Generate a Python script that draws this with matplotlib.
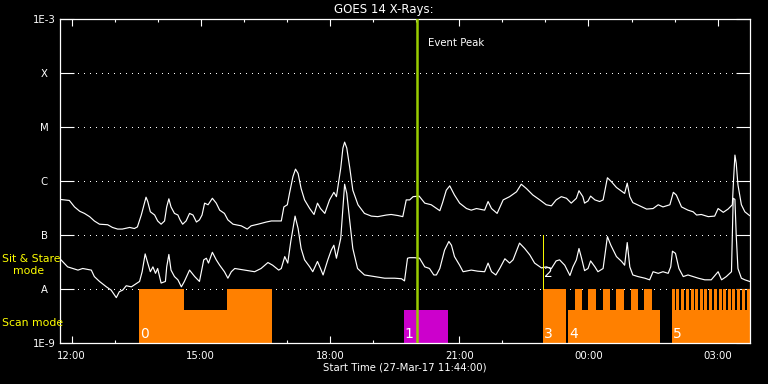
import numpy as np
import matplotlib
matplotlib.use("Agg")
import matplotlib.pyplot as plt
from matplotlib.transforms import blended_transform_factory

# ---------------- data (time: hours from 27-Mar-17 00:00, flux: log10 W/m^2)
t_hi = [11.72, 11.95, 12.07, 12.19, 12.30, 12.42, 12.53, 12.65, 12.84, 12.95, 13.07, 13.18, 13.35, 13.46,
        13.53, 13.62, 13.67, 13.73, 13.77, 13.83, 13.93, 14.00, 14.08, 14.16, 14.21, 14.26, 14.31, 14.39,
        14.47, 14.52, 14.58, 14.66, 14.74, 14.82, 14.90, 14.97, 15.03, 15.09, 15.17, 15.27, 15.36, 15.44,
        15.55, 15.63, 15.75, 15.94, 16.08, 16.17, 16.33, 16.52, 16.64, 16.87, 16.93, 17.01, 17.06, 17.14,
        17.20, 17.26, 17.33, 17.41, 17.53, 17.63, 17.71, 17.78, 17.88, 17.99, 18.09, 18.15, 18.25, 18.30,
        18.34, 18.39, 18.46, 18.53, 18.65, 18.80, 18.96, 19.11, 19.31, 19.42, 19.58, 19.69, 19.77, 19.85,
        19.93, 20.07, 20.20, 20.35, 20.55, 20.61, 20.70, 20.78, 20.89, 21.01, 21.17, 21.28, 21.40, 21.59,
        21.67, 21.75, 21.88, 22.02, 22.17, 22.33, 22.44, 22.56, 22.71, 22.87, 23.02, 23.14, 23.25, 23.37,
        23.49, 23.60, 23.72, 23.78, 23.87, 23.91, 23.99, 24.05, 24.15, 24.26, 24.34, 24.44, 24.53, 24.65,
        24.77, 24.84, 24.90, 24.96, 25.03, 25.19, 25.35, 25.50, 25.62, 25.73, 25.89, 25.97, 26.04, 26.16,
        26.31, 26.43, 26.51, 26.62, 26.78, 26.93, 27.01, 27.13, 27.24, 27.34, 27.37, 27.40, 27.43, 27.47,
        27.55, 27.63, 27.74]
logf_hi = [-6.34, -6.36, -6.48, -6.56, -6.60, -6.66, -6.74, -6.80, -6.81, -6.86, -6.89, -6.89, -6.86, -6.88,
           -6.85, -6.63, -6.48, -6.30, -6.38, -6.57, -6.63, -6.74, -6.80, -6.74, -6.48, -6.33, -6.48, -6.60,
           -6.63, -6.72, -6.80, -6.74, -6.60, -6.63, -6.76, -6.72, -6.63, -6.41, -6.44, -6.32, -6.41, -6.54,
           -6.60, -6.72, -6.80, -6.83, -6.89, -6.83, -6.80, -6.76, -6.74, -6.74, -6.48, -6.44, -6.23, -5.92,
           -5.78, -5.86, -6.14, -6.35, -6.51, -6.62, -6.41, -6.51, -6.60, -6.35, -6.21, -6.29, -5.76, -5.39,
           -5.28, -5.39, -5.76, -6.17, -6.44, -6.60, -6.65, -6.66, -6.63, -6.62, -6.64, -6.66, -6.35, -6.35,
           -6.29, -6.28, -6.41, -6.44, -6.55, -6.41, -6.17, -6.09, -6.26, -6.41, -6.51, -6.54, -6.51, -6.54,
           -6.38, -6.51, -6.60, -6.35, -6.29, -6.20, -6.06, -6.14, -6.26, -6.35, -6.44, -6.46, -6.35, -6.29,
           -6.32, -6.41, -6.32, -6.18, -6.29, -6.41, -6.37, -6.28, -6.35, -6.38, -6.35, -5.94, -6.01, -6.12,
           -6.19, -6.23, -6.04, -6.29, -6.40, -6.46, -6.52, -6.51, -6.44, -6.48, -6.44, -6.21, -6.26, -6.48,
           -6.54, -6.57, -6.63, -6.62, -6.66, -6.65, -6.51, -6.58, -6.52, -6.44, -5.95, -5.52, -5.67, -6.07,
           -6.44, -6.57, -6.64]

t_lo = [11.72, 11.91, 12.03, 12.15, 12.26, 12.46, 12.53, 12.65, 12.81, 12.92, 13.04, 13.11, 13.19, 13.27,
        13.39, 13.52, 13.58, 13.64, 13.71, 13.77, 13.83, 13.89, 13.95, 14.00, 14.08, 14.18, 14.21, 14.26,
        14.31, 14.39, 14.47, 14.55, 14.62, 14.74, 14.86, 14.97, 15.07, 15.13, 15.18, 15.27, 15.36, 15.44,
        15.55, 15.63, 15.71, 15.79, 16.02, 16.25, 16.40, 16.56, 16.67, 16.81, 16.87, 16.95, 17.02, 17.09,
        17.19, 17.26, 17.33, 17.41, 17.53, 17.60, 17.71, 17.78, 17.84, 17.95, 18.03, 18.09, 18.15, 18.25,
        18.34, 18.39, 18.46, 18.53, 18.64, 18.80, 19.04, 19.27, 19.50, 19.66, 19.73, 19.80, 19.85, 19.96,
        20.08, 20.20, 20.31, 20.41, 20.47, 20.55, 20.66, 20.76, 20.82, 20.89, 21.01, 21.09, 21.28, 21.43,
        21.59, 21.67, 21.75, 21.85, 21.94, 22.06, 22.17, 22.25, 22.40, 22.52, 22.64, 22.75, 22.91, 23.02,
        23.14, 23.25, 23.33, 23.45, 23.57, 23.64, 23.72, 23.78, 23.84, 23.91, 23.99, 24.05, 24.15, 24.22,
        24.34, 24.44, 24.52, 24.65, 24.77, 24.84, 24.90, 24.96, 25.03, 25.15, 25.31, 25.42, 25.50, 25.62,
        25.73, 25.85, 25.91, 25.95, 26.02, 26.10, 26.20, 26.31, 26.43, 26.55, 26.70, 26.85, 27.01, 27.09,
        27.20, 27.32, 27.36, 27.40, 27.43, 27.47, 27.55, 27.63, 27.74]
logf_lo = [-7.43, -7.59, -7.62, -7.65, -7.62, -7.65, -7.77, -7.86, -7.96, -8.02, -8.16, -8.05, -8.02, -7.94,
           -7.96, -7.89, -7.86, -7.68, -7.35, -7.52, -7.68, -7.59, -7.71, -7.62, -7.89, -7.86, -7.59, -7.36,
           -7.65, -7.77, -7.83, -7.96, -7.86, -7.65, -7.77, -7.86, -7.46, -7.43, -7.52, -7.32, -7.46, -7.56,
           -7.68, -7.80, -7.68, -7.62, -7.65, -7.68, -7.62, -7.51, -7.56, -7.65, -7.62, -7.40, -7.52, -7.12,
           -6.65, -6.88, -7.25, -7.46, -7.59, -7.68, -7.49, -7.62, -7.74, -7.46, -7.28, -7.19, -7.43, -7.06,
           -6.06, -6.23, -6.75, -7.25, -7.62, -7.74, -7.77, -7.80, -7.80, -7.81, -7.85, -7.43, -7.42, -7.42,
           -7.43, -7.59, -7.62, -7.74, -7.74, -7.62, -7.28, -7.12, -7.19, -7.40, -7.56, -7.68, -7.65, -7.67,
           -7.68, -7.52, -7.68, -7.74, -7.62, -7.44, -7.52, -7.46, -7.15, -7.25, -7.37, -7.52, -7.61, -7.59,
           -7.62, -7.48, -7.46, -7.56, -7.75, -7.59, -7.46, -7.25, -7.43, -7.66, -7.62, -7.48, -7.59, -7.68,
           -7.62, -7.03, -7.19, -7.40, -7.49, -7.56, -7.14, -7.59, -7.74, -7.77, -7.80, -7.83, -7.68, -7.71,
           -7.68, -7.71, -7.59, -7.30, -7.34, -7.62, -7.77, -7.74, -7.77, -7.80, -7.83, -7.83, -7.68, -7.83,
           -7.77, -7.68, -6.32, -6.34, -7.00, -7.62, -7.80, -7.83, -7.86]

level_values = [1e-9, 1e-8, 1e-7, 1e-6, 1e-5, 1e-4, 1e-3]
level_labels = ["1E-9", "A", "B", "C", "M", "X", "1E-3"]
hour_ticks = [12, 15, 18, 21, 24, 27]
hour_labels = ["12:00", "15:00", "18:00", "21:00", "00:00", "03:00"]

# scan mode (lower lane) intervals and colours
scan_start = [13.56, 19.71, 23.52, 25.93]
scan_end = [16.66, 20.75, 25.65, 27.76]
scan_color = ["#ff8000", "#cc00cc", "#ff8000", "#ff8000"]
# sit & stare mode (full lane) intervals
stare_start = [13.56, 15.62, 22.94, 23.68, 24.00, 24.33, 24.65, 24.98, 25.30,
               25.93, 26.04, 26.15, 26.26, 26.37, 26.47, 26.58, 26.69, 26.80,
               26.91, 27.02, 27.13, 27.24, 27.34, 27.45, 27.56, 27.67]
stare_end = [14.60, 16.66, 23.49, 23.86, 24.18, 24.51, 24.83, 25.16, 25.48,
             26.01, 26.11, 26.22, 26.33, 26.44, 26.54, 26.65, 26.76, 26.87,
             26.98, 27.09, 27.20, 27.31, 27.41, 27.52, 27.63, 27.76]
lane_bottom = 1e-9
scan_top = 4.1e-9
stare_top = 1e-8

block_label_times = [13.56, 19.71, 22.94, 23.52, 25.93]
block_label_texts = ["0", "1", "3", "4", "5"]
event_peak = 20.03
marker2_time = 22.94

# ---------------- figure
W, H = 768, 384
fig = plt.figure(figsize=(W / 100, H / 100), dpi=100, facecolor="black")
ax = fig.add_axes([60 / W, 1 - 343 / H, 690 / W, 324 / H], facecolor="black")
ax.set_yscale("log")
ax.set_ylim(1e-9, 1e-3)
ax.set_xlim(11.733, 27.75)

fs = 7.3
# grid dotted lines
for lv in level_values[1:-1]:
    ax.axhline(lv, color="white", lw=1.0, linestyle=(0, (0.72, 4.3)), zorder=1,
               antialiased=False)

# bars
for s, e, c in zip(scan_start, scan_end, scan_color):
    ax.bar(s, scan_top - lane_bottom, width=e - s, bottom=lane_bottom, align="edge",
           color=c, linewidth=0, zorder=2)
for s, e in zip(stare_start, stare_end):
    ax.bar(s, stare_top - lane_bottom, width=e - s, bottom=lane_bottom, align="edge",
           color="#ff8000", linewidth=0, zorder=2)

# curves
ax.plot(t_hi, 10 ** np.array(logf_hi), color="white", lw=0.85, zorder=4)
ax.plot(t_lo, 10 ** np.array(logf_lo), color="white", lw=0.85, zorder=4)

# event peak
ax.axvline(event_peak, color="#99cc00", lw=1.8, zorder=5)
ax.text(event_peak + 0.24, 3.6e-4, "Event Peak", color="white", fontsize=fs,
        va="center", ha="left", zorder=6)
# marker 2
ax.plot([marker2_time, marker2_time], [1e-8, 1e-7], color="#ffff00", lw=0.7,
        zorder=5)
ax.text(marker2_time + 0.02, 1.7e-8, "2", color="white", fontsize=10, va="baseline",
        ha="left", zorder=6)

# block labels
trans = blended_transform_factory(ax.transData, ax.transAxes)
for t, s in zip(block_label_times, block_label_texts):
    ax.text(t + 0.03, 0.016, s, transform=trans, color="white", fontsize=10,
            va="baseline", ha="left", zorder=6)

# axes styling
for sp in ax.spines.values():
    sp.set_color("white")
    sp.set_linewidth(0.9)
ax.set_yticks(level_values)
ax.set_yticklabels(level_labels)
ax.yaxis.set_minor_locator(matplotlib.ticker.NullLocator())
ax.tick_params(axis="y", which="major", direction="in", length=10, width=0.8,
               colors="white", left=True, right=True, labelsize=fs, pad=11.5)
for lab in ax.get_yticklabels():
    lab.set_horizontalalignment("center")

ax.set_xticks(hour_ticks)
ax.set_xticklabels(hour_labels)
ax.set_xticks(list(range(12, 28)), minor=True)
ax.tick_params(axis="x", which="major", direction="in", length=5, width=0.8,
               colors="white", top=True, bottom=True, labelsize=fs, pad=6)
ax.tick_params(axis="x", which="minor", direction="in", length=2.5, width=0.8,
               colors="white", top=True, bottom=True)

# figure texts
fig.text(405 / W, 1 - 368 / H, "Start Time (27-Mar-17 11:44:00)", color="white",
         fontsize=fs, ha="center", va="center")
fig.text(384 / W, 1 - 9 / H, "GOES 14 X-Rays:", color="white", fontsize=8.5,
         ha="center", va="center")
fig.text(2 / W, 1 - 259 / H, "Sit & Stare", color="#ffff00", fontsize=7.8,
         ha="left", va="center")
fig.text(13 / W, 1 - 271 / H, "mode", color="#ffff00", fontsize=7.8,
         ha="left", va="center")
fig.text(2 / W, 1 - 323 / H, "Scan mode", color="#ffff00", fontsize=7.8,
         ha="left", va="center")

fig.savefig("out.png", dpi=100, facecolor="black")
